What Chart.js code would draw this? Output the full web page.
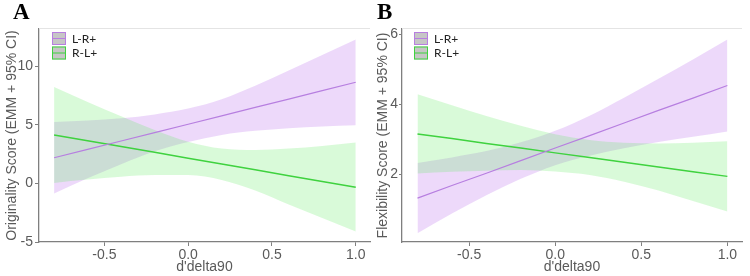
<!DOCTYPE html>
<html>
<head>
<meta charset="utf-8">
<script src="https://cdn.jsdelivr.net/npm/chart.js@4.4.1/dist/chart.umd.min.js"></script>
<style>
  html, body { margin: 0; padding: 0; background: #fff; }
  #wrap { position: relative; width: 750px; height: 276px; overflow: hidden; }
  .panel { position: absolute; top: 0; width: 375px; height: 276px; }
  .panel canvas { display: block; }
  .tag { position: absolute; top: 0; font: bold 23px "Liberation Serif", "Times New Roman", serif; line-height: 23px; color: #000; }
</style>
</head>
<body>
<div id="wrap">
  <div class="panel" style="left:0"><canvas id="chartA" width="375" height="276"></canvas></div>
  <div class="panel" style="left:375px"><canvas id="chartB" width="375" height="276"></canvas></div>
  <div class="tag" style="left:13px">A</div>
  <div class="tag" style="left:377px">B</div>
</div>
<script>
const xVals = [-0.8, -0.6, -0.4, -0.2, 0, 0.2, 0.4, 0.6, 0.8, 1.0];
const groups = ['L-R+', 'R-L+'];
const xTicks = [-0.5, 0, 0.5, 1.0];
const xTickLabels = ['-0.5', '0.0', '0.5', '1.0'];

// A - Originality
const oriLRfit   = [2.20, 2.92, 3.63, 4.35, 5.06, 5.78, 6.50, 7.21, 7.93, 8.65];
const oriLRupper = [5.25, 5.38, 5.57, 5.90, 6.40, 7.20, 8.35, 9.65, 10.98, 12.30];
const oriLRlower = [-0.85, 0.45, 1.65, 2.75, 3.55, 4.15, 4.50, 4.72, 4.86, 4.97];
const oriRLfit   = [4.15, 3.65, 3.16, 2.66, 2.16, 1.66, 1.17, 0.67, 0.17, -0.33];
const oriRLupper = [8.25, 6.97, 5.74, 4.57, 3.57, 2.98, 2.86, 2.98, 3.20, 3.50];
const oriRLlower = [0.05, 0.33, 0.58, 0.72, 0.72, 0.30, -0.60, -1.80, -2.95, -4.10];
const oriYTicks = [-5, 0, 5, 10];

// B - Flexibility
const flxLRfit   = [1.33, 1.69, 2.04, 2.40, 2.76, 3.11, 3.47, 3.83, 4.18, 4.54];
const flxLRupper = [2.33, 2.49, 2.67, 2.92, 3.25, 3.68, 4.19, 4.73, 5.28, 5.85];
const flxLRlower = [0.33, 0.89, 1.41, 1.88, 2.27, 2.54, 2.75, 2.93, 3.08, 3.23];
const flxRLfit   = [3.16, 3.03, 2.89, 2.76, 2.62, 2.49, 2.35, 2.22, 2.08, 1.95];
const flxRLupper = [4.29, 3.98, 3.67, 3.39, 3.15, 2.99, 2.91, 2.89, 2.91, 2.95];
const flxRLlower = [2.03, 2.08, 2.11, 2.13, 2.09, 1.99, 1.80, 1.55, 1.25, 0.95];
const flxYTicks = [2, 4, 6];

const purpleLine = '#b77fe0';
const greenLine = '#3fd23f';
const purpleFill = 'rgba(179, 95, 235, 0.24)';
const greenFill = 'rgba(95, 235, 95, 0.24)';
const axisGrey = '#7f7f7f';
const textGrey = '#5a5a5a';

Chart.defaults.font.family = '"Liberation Sans", Arial, sans-serif';

const pts = arr => arr.map((y, i) => ({ x: xVals[i], y: y }));

function bandSets(upper, lower, fill, order) {
    return [
        { data: pts(upper), fill: '+1', backgroundColor: fill, borderColor: 'rgba(0,0,0,0)', borderWidth: 0,
          pointRadius: 0, cubicInterpolationMode: 'monotone', order: order },
        { data: pts(lower), fill: false, borderColor: 'rgba(0,0,0,0)', borderWidth: 0,
          pointRadius: 0, cubicInterpolationMode: 'monotone', order: order }
    ];
}

// legend drawn inside the plot (grey key boxes like the ggplot original)
const insideLegend = {
    id: 'insideLegend',
    afterDraw(chart, args, opts) {
        const { ctx, chartArea } = chart;
        ctx.save();
        // faint top border of the panel
        ctx.strokeStyle = '#e4e4e4';
        ctx.lineWidth = 1;
        ctx.beginPath();
        ctx.moveTo(chartArea.left, chartArea.top - 0.5);
        ctx.lineTo(chartArea.right, chartArea.top - 0.5);
        ctx.stroke();

        let y = chartArea.top + 3;
        const x = chartArea.left + opts.dx;
        groups.forEach((g, i) => {
            const col = [purpleLine, greenLine][i];
            ctx.fillStyle = '#c6c6c6';
            ctx.fillRect(x, y, 14, 13);
            ctx.strokeStyle = col;
            ctx.lineWidth = 1;
            ctx.strokeRect(x + 0.5, y + 0.5, 13, 12);
            ctx.beginPath();
            ctx.moveTo(x + 1, y + 6.5);
            ctx.lineTo(x + 13, y + 6.5);
            ctx.stroke();
            ctx.fillStyle = '#222';
            ctx.font = '12px Lato, sans-serif';
            ctx.textBaseline = 'middle';
            ctx.fillText(g, x + 20, y + 7);
            y += 14.5;
        });
        ctx.restore();
    }
};

function makePanel(id, p) {
    new Chart(document.getElementById(id), {
        type: 'line',
        data: {
            datasets: [
                ...bandSets(p.lrUpper, p.lrLower, purpleFill, 4),
                ...bandSets(p.rlUpper, p.rlLower, greenFill, 3),
                { label: groups[0], data: pts(p.lrFit), borderColor: purpleLine, borderWidth: 1.2, pointRadius: 0, fill: false, order: 1 },
                { label: groups[1], data: pts(p.rlFit), borderColor: greenLine, borderWidth: 1.5, pointRadius: 0, fill: false, order: 1 }
            ]
        },
        options: {
            responsive: false,
            animation: false,
            devicePixelRatio: 1,
            layout: { padding: { top: 29, right: p.padRight, left: 0, bottom: 0 } },
            plugins: {
                legend: { display: false },
                tooltip: { enabled: false },
                insideLegend: { dx: p.legendDx }
            },
            scales: {
                x: {
                    type: 'linear',
                    min: -0.89,
                    max: 1.085,
                    afterBuildTicks: s => { s.ticks = xTicks.map(v => ({ value: v })); },
                    afterFit: s => { s.height = 34; },
                    ticks: {
                        callback: (v, i) => xTickLabels[i],
                        color: textGrey, font: { size: 14 }, padding: 1,
                        maxRotation: 0, autoSkip: false
                    },
                    grid: { display: true, drawOnChartArea: false, drawTicks: true, tickLength: 4, color: axisGrey },
                    border: { display: true, color: axisGrey, width: 1.3 },
                    title: { display: true, text: "d'delta90", color: textGrey, font: { size: 14 }, padding: { top: 0, bottom: 0 } }
                },
                y: {
                    type: 'linear',
                    min: p.yMin,
                    max: p.yMax,
                    afterBuildTicks: s => { s.ticks = p.yTicks.map(v => ({ value: v })); },
                    afterFit: s => { s.width = p.yWidth; },
                    ticks: { color: textGrey, font: { size: 14 }, padding: p.tickPad },
                    grid: { display: true, drawOnChartArea: false, drawTicks: true, tickLength: p.tickLen, color: axisGrey },
                    border: { display: true, color: axisGrey, width: 1.3 },
                    title: { display: true, text: p.yTitle, color: textGrey, font: { size: 14 }, padding: { top: p.titlePad, bottom: 0 } }
                }
            }
        },
        plugins: [insideLegend]
    });
}

makePanel('chartA', {
    lrFit: oriLRfit, lrUpper: oriLRupper, lrLower: oriLRlower,
    rlFit: oriRLfit, rlUpper: oriRLupper, rlLower: oriRLlower,
    yMin: -5, yMax: 13.2, yTicks: oriYTicks, yWidth: 39, padRight: 5,
    tickPad: 2, tickLen: 4,
    yTitle: 'Originality Score (EMM + 95% CI)', titlePad: 4, legendDx: 13
});

makePanel('chartB', {
    lrFit: flxLRfit, lrUpper: flxLRupper, lrLower: flxLRlower,
    rlFit: flxRLfit, rlUpper: flxRLupper, rlLower: flxRLlower,
    yMin: 0.08, yMax: 6.15, yTicks: flxYTicks, yWidth: 27, padRight: 8,
    tickPad: 1, tickLen: 3,
    yTitle: 'Flexibility Score (EMM + 95% CI)', titlePad: 0, legendDx: 12
});
</script>
</body>
</html>
